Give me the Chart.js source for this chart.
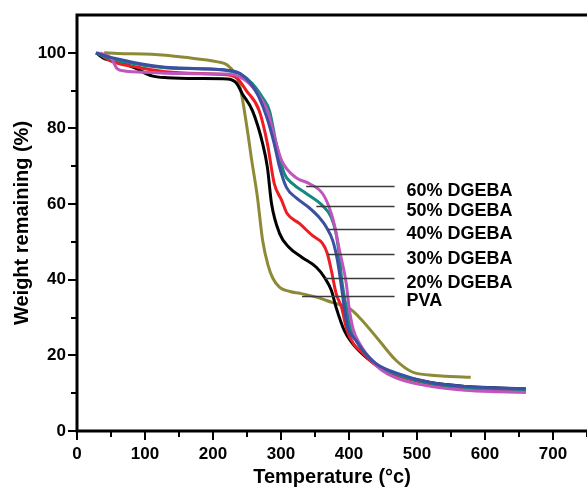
<!DOCTYPE html>
<html>
<head>
<meta charset="utf-8">
<script src="https://cdn.jsdelivr.net/npm/chart.js@4.4.1/dist/chart.umd.min.js"></script>
<style>
  html, body { margin: 0; padding: 0; background: #fff; }
  #wrap { width: 587px; height: 487px; }
</style>
</head>
<body>
<div id="wrap"><canvas id="tgaChart" width="587" height="487"></canvas></div>
<script>
// TGA curves: temperature (°C) and weight remaining (%)
var pvaT = [40, 60, 110, 158, 207, 221, 232, 240, 250, 257, 265, 273, 281, 288, 298, 313, 328, 352, 375, 400, 419, 444, 469, 493, 518, 543, 579];
var pvaW = [100, 99.8, 99.6, 98.8, 97.6, 96.8, 94.5, 90.8, 80.2, 71.5, 62.3, 50.4, 43.8, 40.4, 38, 36.9, 36.4, 35.4, 34, 32.5, 29.3, 24, 18.7, 15.6, 14.8, 14.5, 14.2];

var d20T = [28, 41, 56, 85, 110, 133, 180, 221, 234, 243, 258, 273, 280, 286, 298, 312, 331, 352, 364, 374, 381, 393, 405, 415, 440, 470, 520, 570, 620, 660];
var d20W = [100, 98.4, 97.9, 96, 93.9, 93.4, 93.2, 93.1, 92.1, 89.2, 84.7, 76, 69.7, 60.2, 52.2, 48.5, 45.9, 43.3, 40.6, 37.2, 32.7, 26.6, 23.2, 21.2, 17.5, 15, 12.8, 11.8, 11.4, 11.1];

var d30T = [30, 50, 85, 130, 180, 221, 236, 249, 268, 280, 290, 301, 309, 327, 346, 361, 368, 374, 381, 389, 397, 408, 418, 440, 470, 520, 570, 620, 660];
var d30W = [100, 97.8, 96.3, 95, 94.5, 94.2, 93.2, 90, 84.7, 76, 65.5, 61, 57.5, 54.9, 51.7, 49.6, 47, 42.5, 36.4, 32.7, 26.6, 22.7, 21, 17.3, 14.7, 12.4, 11.3, 10.8, 10.5];

var d40T = [28, 45, 60, 85, 130, 180, 221, 240, 255, 267, 279, 290, 298, 308, 322, 341, 356, 367, 376, 383, 389, 393, 398, 410, 420, 440, 470, 520, 570, 620, 660];
var d40W = [100, 99, 98.4, 97.4, 96.2, 95.8, 95.4, 94.5, 92, 88.5, 83, 76, 69.7, 64.4, 61.7, 59.1, 56.5, 53.8, 50.4, 45.1, 38, 32.7, 27.5, 24, 21.4, 17.8, 15.3, 12.8, 11.8, 11.4, 11.2];

var d50T = [28, 45, 85, 133, 180, 221, 239, 258, 273, 283, 293, 305, 317, 337, 361, 374, 381, 386, 390, 396, 402, 412, 422, 440, 470, 520, 570, 620, 660];
var d50W = [100, 98.7, 97.1, 96, 95.8, 95.3, 94.5, 91.8, 88.1, 84.7, 76, 68, 65.4, 62.8, 59.6, 56.5, 52.2, 45.9, 39, 32.7, 27, 23.5, 21, 17.5, 15, 12.6, 11.5, 11.1, 10.9];

var d60T = [34, 51, 59, 70, 110, 158, 221, 240, 254, 270, 280, 293, 301, 322, 342, 361, 371, 378, 386, 396, 400, 406, 416, 425, 445, 470, 520, 570, 620, 660];
var d60W = [100, 98.4, 95.8, 95.2, 94.8, 94.5, 94.4, 93.6, 91.8, 88, 84.7, 76, 71.5, 67, 65.4, 62.8, 59.1, 54.9, 47.8, 39, 32.7, 27, 23, 20.5, 16.5, 14, 11.8, 10.8, 10.4, 10.2];

// axis ticks
var xTicks = [0, 100, 200, 300, 400, 500, 600, 700];
var yTicks = [0, 20, 40, 60, 80, 100];

// leader lines: label, weight level, temperature where the line leaves the curve
var leaderLabels = ['60% DGEBA', '50% DGEBA', '40% DGEBA', '30% DGEBA', '20% DGEBA', 'PVA'];
var leaderW = [64.9, 59.6, 53.3, 46.7, 40.4, 35.6];
var leaderFrom = [337, 352, 369, 369, 364, 331];
var leaderTo = 467;

var FONT = "'Liberation Sans', Arial, sans-serif";

function pts(t, w) {
    return t.map(function (v, i) { return { x: v, y: w[i] }; });
}

function series(label, t, w, color, order) {
    return {
        label: label,
        data: pts(t, w),
        borderColor: color,
        borderWidth: 3,
        pointRadius: 0,
        fill: false,
        cubicInterpolationMode: 'monotone',
        order: order
    };
}

// axis lines, top frame and outward tick marks (major + minor)
var axisFrame = {
    id: 'axisFrame',
    beforeDatasetsDraw: function (chart) {
        var c = chart.ctx, a = chart.chartArea, x = chart.scales.x, y = chart.scales.y;
        c.save();
        c.strokeStyle = '#000';
        c.lineWidth = 3;
        c.beginPath();
        c.moveTo(a.left, a.top);
        c.lineTo(a.left, a.bottom);
        c.lineTo(a.right, a.bottom);
        c.moveTo(a.left - 1.5, a.top);
        c.lineTo(a.right, a.top);
        c.stroke();

        c.lineWidth = 2;
        c.beginPath();
        for (var v = 0; v <= 750; v += 50) {
            var px = Math.round(x.getPixelForValue(v));
            var len = v % 100 === 0 ? 9 : 6;
            c.moveTo(px, a.bottom);
            c.lineTo(px, a.bottom + len);
        }
        for (var w = 0; w <= 100; w += 10) {
            var py = Math.round(y.getPixelForValue(w));
            var l2 = w % 20 === 0 ? 9 : 6;
            c.moveTo(a.left, py);
            c.lineTo(a.left - l2, py);
        }
        c.stroke();
        c.restore();
    },
    afterDatasetsDraw: function (chart) {
        var c = chart.ctx, x = chart.scales.x, y = chart.scales.y;
        c.save();
        c.strokeStyle = '#3a3a3a';
        c.lineWidth = 1.5;
        c.fillStyle = '#000';
        c.font = 'bold 18px ' + FONT;
        c.textBaseline = 'middle';
        leaderLabels.forEach(function (txt, i) {
            var py = Math.round(y.getPixelForValue(leaderW[i])) + 0.5;
            var x0 = x.getPixelForValue(leaderFrom[i]);
            var x1 = x.getPixelForValue(leaderTo);
            c.beginPath();
            c.moveTo(x0, py);
            c.lineTo(x1, py);
            c.stroke();
            c.fillText(txt, x1 + 12, py + 5);
        });
        c.restore();
    }
};

var ctx = document.getElementById('tgaChart').getContext('2d');
var chart = new Chart(ctx, {
    type: 'line',
    data: {
        datasets: [
            series('PVA', pvaT, pvaW, '#8c8a37', 5),
            series('20% DGEBA', d20T, d20W, '#000000', 4),
            series('30% DGEBA', d30T, d30W, '#ee1d23', 3),
            series('50% DGEBA', d50T, d50W, '#13897f', 2),
            series('60% DGEBA', d60T, d60W, '#c055bd', 1),
            series('40% DGEBA', d40T, d40W, '#3c4fa3', 0)
        ]
    },
    options: {
        responsive: false,
        animation: false,
        layout: { padding: { left: 0, top: 15, right: 0, bottom: 0 } },
        plugins: {
            legend: { display: false },
            tooltip: { enabled: false }
        },
        scales: {
            x: {
                type: 'linear',
                min: 0,
                max: 750,
                grid: { display: false, drawTicks: false },
                border: { display: false },
                afterBuildTicks: function (axis) {
                    axis.ticks = xTicks.map(function (v) { return { value: v }; });
                },
                afterFit: function (axis) {
                    axis.height = 56;
                    axis.paddingLeft = 0;
                    axis.paddingRight = 0;
                },
                ticks: {
                    padding: 13,
                    color: '#000',
                    maxRotation: 0,
                    font: { family: FONT, size: 17, weight: 'bold' }
                },
                title: {
                    display: true,
                    text: 'Temperature (°c)',
                    color: '#000',
                    padding: { top: 0, bottom: -2 },
                    font: { family: FONT, size: 20, weight: 'bold' }
                }
            },
            y: {
                type: 'linear',
                min: 0,
                max: 110,
                grid: { display: false, drawTicks: false },
                border: { display: false },
                afterBuildTicks: function (axis) {
                    axis.ticks = yTicks.map(function (v) { return { value: v }; });
                },
                afterFit: function (axis) {
                    axis.width = 77;
                    axis.paddingTop = 0;
                    axis.paddingBottom = 0;
                },
                ticks: {
                    padding: 11,
                    color: '#000',
                    font: { family: FONT, size: 17, weight: 'bold' }
                },
                title: {
                    display: true,
                    text: 'Weight remaining (%)',
                    color: '#000',
                    padding: { top: 10, bottom: 0 },
                    font: { family: FONT, size: 20, weight: 'bold' }
                }
            }
        }
    },
    plugins: [axisFrame]
});
</script>
</body>
</html>
